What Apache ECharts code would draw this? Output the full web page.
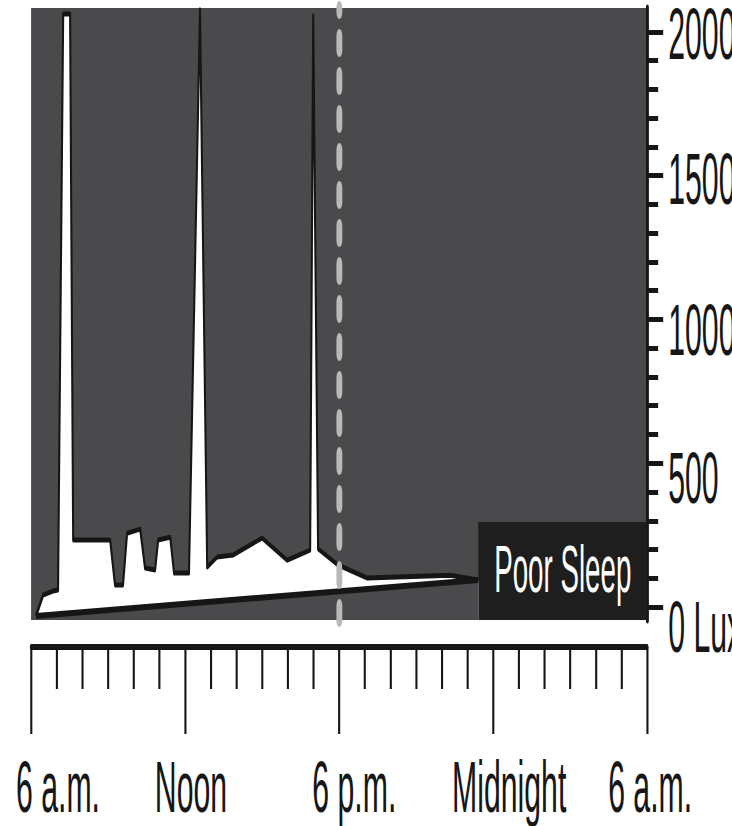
<!DOCTYPE html>
<html>
<head>
<meta charset="utf-8">
<title>Light over the day - Poor Sleep</title>
<script src="https://cdn.jsdelivr.net/npm/echarts@6/dist/echarts.min.js"></script>
<style>
  html, body { margin: 0; padding: 0; background: #fff; overflow: hidden; }
  /* the figure uses a very condensed face, so the chart is laid out wide
     and squeezed back into the 732px window */
  #main { width: 1743px; height: 826px; transform: scaleX(0.42); transform-origin: 0 0; }
</style>
</head>
<body>
<div id="main"></div>
<script>
// x = hours after 6 a.m.
const hourTicks = [0, 6, 12, 18, 24];
const hourLabels = ['6 a.m.', 'Noon', '6 p.m.', 'Midnight', '6 a.m.'];

const luxTicks = [0, 500, 1000, 1500, 2000];
const luxLabels = ['0 Lux', '500', '1000', '1500', '2000'];
const luxMinorTicks = [100, 200, 300, 400, 600, 700, 800, 900, 1100, 1200, 1300, 1400, 1600, 1700, 1800, 1900];

// light level through the day (top edge of the white band)
const lightHours = [0.19, 0.47, 0.86, 1.05, 1.25, 1.52, 1.64, 3.08, 3.27, 3.58, 3.74, 4.25, 4.44, 4.83, 4.95, 5.42,
  5.57, 6.15, 6.58, 6.86, 7.25, 7.87, 9.00, 9.97, 10.87, 10.99, 11.18, 11.96, 13.09, 16.32, 17.42];
const lightLux = [-31, 42, 56, 59, 2062, 2062, 233, 233, 77, 77, 257, 271, 136, 129, 233, 243,
  118, 118, 2077, 139, 174, 181, 240, 163, 198, 2056, 202, 146, 101, 111, 94];

// lower edge of the white band
const baseHours = [0.19, 17.42];
const baseLux = [-31, 94];

const sunsetHour = 12; // 6 p.m.
const poorSleepText = 'Poor Sleep';
const poorSleepHours = [17.42, 24];
const poorSleepTopLux = 296;

const yMin = -45;
const yMax = 2083;

const FONT = '"Liberation Sans", Arial, sans-serif';
const INK = '#161616';
const PLOT_BG = '#4a4a4c';

// per-label nudges, the labels in the figure are not centred on the ticks
const xLabelPad = [128, 28, 72, 76, 14];
const yLabelPad = [40, 30, 21, 8, 4];

const xRich = {};
hourLabels.forEach((t, i) => {
  xRich['x' + i] = { fontSize: 72, fontFamily: FONT, color: INK, padding: [0, 0, 0, xLabelPad[i]] };
});
const yRich = {};
luxLabels.forEach((t, i) => {
  yRich['y' + i] = { fontSize: 72, fontFamily: FONT, color: INK, padding: [yLabelPad[i], 0, 0, 0] };
});

const chart = echarts.init(document.getElementById('main'), null, { renderer: 'svg' });

const option = {
  animation: false,
  grid: {
    left: 74, right: 202, top: 8, bottom: 206,
    show: true, backgroundColor: PLOT_BG, borderWidth: 0,
    containLabel: false, outerBoundsMode: 'none'
  },
  xAxis: [{
    type: 'value', min: 0, max: 24, interval: 6,
    position: 'bottom', offset: 27,
    axisLine: { show: true, onZero: false, lineStyle: { color: INK, width: 6 } },
    axisTick: { show: true, length: 87, lineStyle: { color: INK, width: 5 } },
    minorTick: { show: true, splitNumber: 6, length: 42, lineStyle: { color: INK, width: 5 } },
    splitLine: { show: false },
    minorSplitLine: { show: false },
    axisLabel: {
      margin: 104,
      formatter: (v) => {
        const i = hourTicks.indexOf(v);
        return i < 0 ? '' : '{x' + i + '|' + hourLabels[i] + '}';
      },
      rich: xRich
    }
  }],
  yAxis: [{
    type: 'value', min: yMin, max: yMax, position: 'right',
    axisLine: { show: true, onZero: false, lineStyle: { color: INK, width: 7 } },
    axisTick: { show: true, customValues: luxTicks, length: 38, lineStyle: { color: INK, width: 5 } },
    axisLabel: {
      customValues: luxTicks, margin: 50,
      formatter: (v) => {
        const i = luxTicks.indexOf(v);
        return i < 0 ? '' : '{y' + i + '|' + luxLabels[i] + '}';
      },
      rich: yRich
    },
    splitLine: { show: false }
  }, {
    type: 'value', min: yMin, max: yMax, position: 'right',
    axisLine: { show: false, onZero: false },
    axisTick: { show: true, customValues: luxMinorTicks, length: 26, lineStyle: { color: INK, width: 5 } },
    axisLabel: { show: false },
    splitLine: { show: false }
  }],
  series: [{
    name: 'light',
    type: 'line',
    data: lightHours.map((h, i) => [h, lightLux[i]]),
    symbol: 'none',
    z: 2,
    lineStyle: { color: INK, width: 5, join: 'round' },
    areaStyle: { color: '#ffffff', opacity: 1, origin: 'start' },
    markArea: {
      silent: true,
      itemStyle: { color: '#1e1e1e' },
      label: {
        show: true, position: 'inside', color: '#ffffff',
        fontSize: 66, fontFamily: FONT, offset: [0, -2]
      },
      data: [[
        { name: poorSleepText, coord: [poorSleepHours[0], poorSleepTopLux] },
        { coord: [poorSleepHours[1], yMin] }
      ]]
    }
  }, {
    name: 'base',
    type: 'line',
    data: baseHours.map((h, i) => [h, baseLux[i]]),
    symbol: 'none',
    z: 3,
    lineStyle: { color: INK, width: 6 },
    areaStyle: { color: PLOT_BG, opacity: 1, origin: 'start' },
    markLine: {
      silent: true,
      symbol: ['none', 'none'],
      label: { show: false },
      lineStyle: { color: '#b9b9b9', width: 14, type: [14, 24], cap: 'round' },
      data: [{ xAxis: sunsetHour }]
    }
  }]
};

chart.setOption(option);
</script>
</body>
</html>
